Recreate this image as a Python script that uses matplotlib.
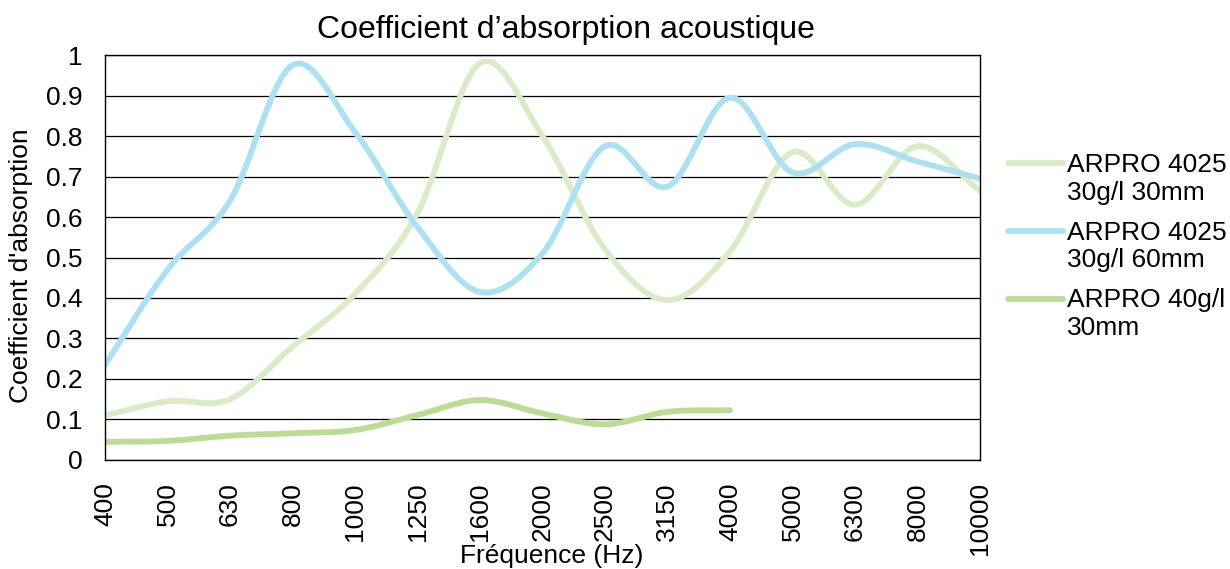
import numpy as np
import matplotlib
matplotlib.use('Agg')
from matplotlib import pyplot as plt
from matplotlib.legend_handler import HandlerLine2D

plt.rcParams['font.family'] = ['Liberation Sans', 'DejaVu Sans']

# frequency bands (Hz) and absorption values
freqs = ['400', '500', '630', '800', '1000', '1250', '1600', '2000',
         '2500', '3150', '4000', '5000', '6300', '8000', '10000']
arpro_30_30 = [0.11, 0.145, 0.15, 0.28, 0.41, 0.61, 0.98, 0.80,
               0.52, 0.395, 0.515, 0.76, 0.63, 0.775, 0.665]
arpro_30_60 = [0.235, 0.47, 0.64, 0.975, 0.81, 0.575, 0.415, 0.51,
               0.775, 0.675, 0.895, 0.71, 0.78, 0.737, 0.695]
arpro_40_30 = [0.045, 0.047, 0.06, 0.066, 0.074, 0.111, 0.148, 0.115,
               0.088, 0.119, 0.123]

labels = ['ARPRO 4025\n30g/l 30mm', 'ARPRO 4025\n30g/l 60mm', 'ARPRO 40g/l\n30mm']
colors = ['#d9ebc7', '#abe1f2', '#badd93']
FS = 19


def smooth(y, n=30):
    # catmull-rom curve through the points, like excel "smoothed line"
    y = np.asarray(y, dtype=float)
    x = np.arange(len(y), dtype=float)
    p = np.concatenate([[2*y[0]-y[1]], y, [2*y[-1]-y[-2]]])
    xs, ys = [], []
    for i in range(len(y)-1):
        p0, p1, p2, p3 = p[i], p[i+1], p[i+2], p[i+3]
        t = np.linspace(0, 1, n, endpoint=False)
        yy = 0.5*((2*p1) + (-p0+p2)*t + (2*p0-5*p1+4*p2-p3)*t**2 + (-p0+3*p1-3*p2+p3)*t**3)
        xs.append(x[i]+t)
        ys.append(yy)
    xs.append([x[-1]])
    ys.append([y[-1]])
    return np.concatenate(xs), np.concatenate(ys)


class FirstLineHandler(HandlerLine2D):
    # put the legend line next to the first line of a two-line label
    def create_artists(self, legend, orig_handle, xdescent, ydescent, width, height, fontsize, trans):
        arts = super().create_artists(legend, orig_handle, xdescent, ydescent, width, height, fontsize, trans)
        for a in arts:
            a.set_ydata(np.asarray(a.get_ydata()) + 0.6*fontsize)
        return arts


fig = plt.figure(figsize=(12.3, 5.69), dpi=100)
ax = fig.add_axes([0.0854, 0.1916, 0.7113, 0.7117])

handles = []
for vals, lab, col in zip([arpro_30_30, arpro_30_60, arpro_40_30], labels, colors):
    sx, sy = smooth(vals)
    ln, = ax.plot(sx, sy, color=col, lw=4.2, label=lab, solid_capstyle='round')
    handles.append(ln)

ax.set_xlim(0, len(freqs)-1)
ax.set_ylim(0, 1)
ax.set_xticks(range(len(freqs)))
ax.set_xticklabels(freqs, rotation=90, fontsize=FS)
ax.set_xticks(range(0, len(freqs), 2), minor=True)
ax.set_yticks(np.arange(0, 1.01, 0.1))
ax.set_yticklabels(['0', '0.1', '0.2', '0.3', '0.4', '0.5', '0.6', '0.7', '0.8', '0.9', '1'], fontsize=FS)
ax.tick_params(which='both', length=0)
ax.tick_params(axis='x', pad=16)
ax.tick_params(axis='y', pad=16)
ax.grid(axis='y', which='major', color='black', lw=0.9)
ax.grid(axis='x', which='minor', color='black', lw=0.9)
for s in ax.spines.values():
    s.set_color('black')
    s.set_linewidth(1.0)

ax.set_title('Coefficient d’absorption acoustique', fontsize=23, pad=12, x=0.527)
ax.set_ylabel("Coefficient d'absorption", fontsize=FS)
ax.yaxis.set_label_coords(-0.082, 0.479)
ax.set_xlabel('Fréquence (Hz)', fontsize=FS)
ax.xaxis.set_label_coords(0.51, -0.208)

ax.legend(handles=handles, loc='upper left', bbox_to_anchor=(1008/1230, 1-153/569),
          bbox_transform=fig.transFigure, frameon=False, fontsize=FS,
          borderpad=0, borderaxespad=0, handlelength=2.1, handletextpad=0.15,
          labelspacing=0.6, handler_map={matplotlib.lines.Line2D: FirstLineHandler()})

fig.savefig('out.png', dpi=100)
